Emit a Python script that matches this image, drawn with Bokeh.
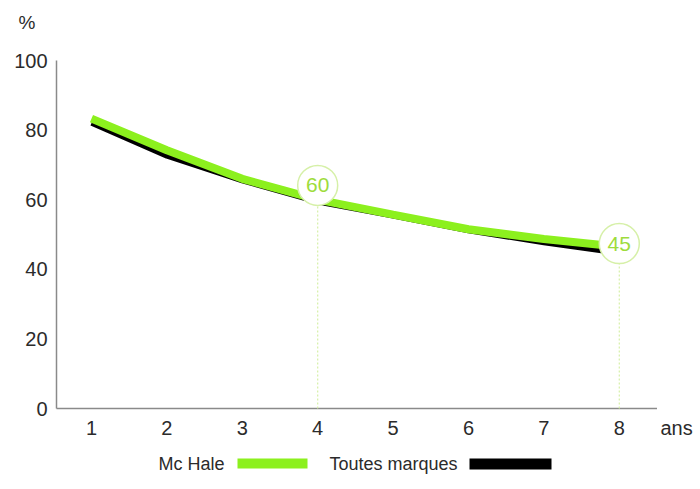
from bokeh.plotting import figure
from bokeh.models import ColumnDataSource
from bokeh.core.properties import value
from bokeh.embed import file_html
from bokeh.resources import INLINE

years = [1, 2, 3, 4, 5, 6, 7, 8]
mchale = [83.3, 74.2, 66.0, 60.0, 55.7, 51.5, 48.7, 46.5]
toutes = [82.0, 72.5, 65.4, 59.3, 55.3, 51.1, 47.6, 44.6]
y_ticks = [0, 20, 40, 60, 80, 100]
callout_x = [4, 8]
callout_y = [64.1, 47.4]
callout_text = ["60", "45"]
series_names = ["Mc Hale", "Toutes marques"]
x_unit = "ans"
y_unit = "%"

FONT = "Liberation Sans"
GREEN = "#8cf01e"
PALE = "#d6f0a8"
TXT = "#2b2b2b"

W, H = 696, 485
PX_X = 75.4       # pixels per year
PX_Y = 3.48       # pixels per percent
X0_PX, Y0_PX = 56, 408  # pixel position of axis origin
X_AT_LEFT = 0.536       # data x at the y axis


def px2x(px):
    return X_AT_LEFT + (px - X0_PX) / PX_X


def px2y(py):
    return (Y0_PX - py) / PX_Y


X_END = 8.5
p = figure(width=W, height=H, x_range=(px2x(0), px2x(W)), y_range=(px2y(H), px2y(0)),
           output_backend="svg", toolbar_location=None,
           min_border=0, min_border_left=0, min_border_right=0,
           min_border_top=0, min_border_bottom=0)
p.axis.visible = False
p.grid.visible = False
p.outline_line_color = None

# axis lines
p.segment(x0=[X_AT_LEFT, X_AT_LEFT], y0=[0, 0], x1=[X_AT_LEFT, X_END], y1=[max(y_ticks), 0],
          line_color="#8a8a8a", line_width=1.5)

# tick labels
p.text(x=[px2x(47)] * len(y_ticks), y=y_ticks, text=[str(t) for t in y_ticks],
       text_font=value(FONT), text_font_size="20px", text_color=TXT,
       text_align="right", text_baseline="middle")
p.text(x=years, y=[px2y(427)] * len(years), text=[str(t) for t in years],
       text_font=value(FONT), text_font_size="20px", text_color=TXT,
       text_align="center", text_baseline="middle")
p.text(x=[px2x(660)], y=[px2y(427)], text=[x_unit], text_font=value(FONT),
       text_font_size="20px", text_color=TXT, text_align="left", text_baseline="middle")
p.text(x=[px2x(18)], y=[px2y(22)], text=[y_unit], text_font=value(FONT),
       text_font_size="19px", text_color=TXT, text_align="left", text_baseline="middle")

# dashed guides from callouts to axis
p.segment(x0=callout_x, y0=[0, 0], x1=callout_x, y1=callout_y,
          line_color=PALE, line_width=1.2, line_dash="2 2")

p.line(years, toutes, line_color="black", line_width=5)
p.line(years, mchale, line_color=GREEN, line_width=8)

src = ColumnDataSource(dict(x=callout_x, y=callout_y, t=callout_text))
p.scatter("x", "y", source=src, marker="circle", size=40, fill_color="white",
          line_color=PALE, line_width=1.5)
p.text("x", "y", text="t", source=src, text_align="center", text_baseline="middle",
       text_font=value(FONT), text_font_size="21px", text_color="#9edc3c")

# legend
ly = px2y(463)
p.text(x=[px2x(224), px2x(457)], y=[ly, ly], text=series_names, text_font=value(FONT),
       text_font_size="18px", text_color=TXT, text_align="right", text_baseline="middle")
p.quad(left=[px2x(237), px2x(469)], right=[px2x(307), px2x(551)],
       bottom=[px2y(468), px2y(469)], top=[px2y(458), px2y(458)],
       fill_color=[GREEN, "black"], line_color=None)

open("out.html", "w").write(file_html(p, INLINE))
